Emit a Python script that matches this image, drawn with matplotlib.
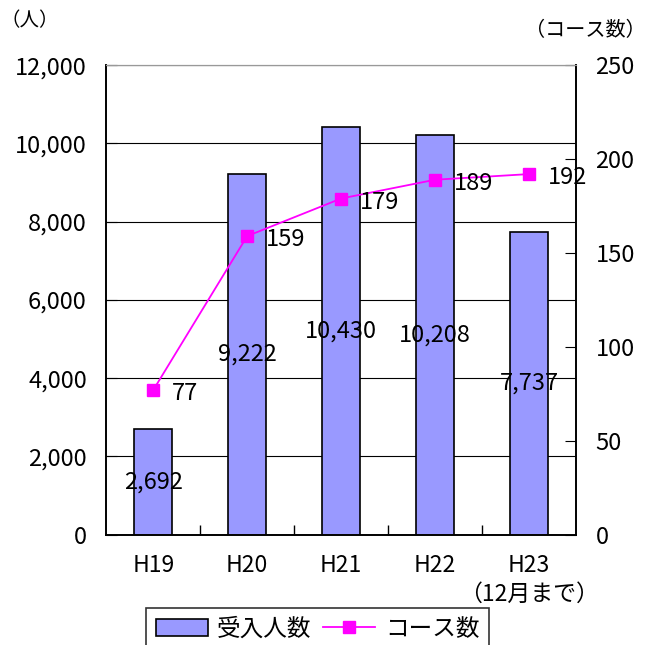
import matplotlib
matplotlib.use("Agg")
import matplotlib.pyplot as plt
from matplotlib.ticker import FuncFormatter

plt.rcParams['font.family'] = ['Noto Sans CJK JP', 'DejaVu Sans']

# データ
years = ['H19', 'H20', 'H21', 'H22', 'H23\n（12月まで）']
people = [2692, 9222, 10430, 10208, 7737]
courses = [77, 159, 179, 189, 192]
left_ticks = [0, 2000, 4000, 6000, 8000, 10000, 12000]
right_ticks = [0, 50, 100, 150, 200, 250]

fig = plt.figure(figsize=(6.48, 6.45), dpi=100)
ax = fig.add_axes([0.164, 0.171, 0.725, 0.728])
ax2 = ax.twinx()

x = list(range(len(years)))
bars = ax.bar(x, people, width=0.4, color='#9999FF', edgecolor='black', linewidth=1.2,
              label='受入人数', zorder=3)
ax.set_xlim(-0.5, len(years) - 0.5)
ax.set_ylim(0, 12000)
ax.set_yticks(left_ticks)
ax.yaxis.set_major_formatter(FuncFormatter(lambda v, p: f'{int(v):,}'))
ax.grid(axis='y', color='black', linewidth=0.8, zorder=0)
ax.set_axisbelow(True)

for xi, v in zip(x, people):
    ax.text(xi, v / 2, f'{v:,}', ha='center', va='center', fontsize=17, zorder=5)

ln, = ax2.plot(x, courses, color='#FF00FF', marker='s', markersize=9, linewidth=1.3,
               label='コース数', zorder=4)
ax2.set_ylim(0, 250)
ax2.set_yticks(right_ticks)
for xi, v in zip(x, courses):
    ax2.text(xi + 0.2, v - 2, str(v), ha='left', va='center', fontsize=17, zorder=5)

# x軸の目盛り（区切り線）
ax.set_xticks(x)
ax.set_xticklabels(years, fontsize=16.5, linespacing=1.3)
ax.tick_params(axis='x', length=0, pad=14)
ax.set_xticks([i + 0.5 for i in range(len(years) - 1)], minor=True)
ax.tick_params(axis='x', which='minor', direction='in', length=7, width=1)

ax.tick_params(axis='y', direction='in', length=8, labelsize=17, pad=14)
ax2.tick_params(axis='y', direction='in', length=8, labelsize=17, pad=14)

for a in (ax, ax2):
    for s in ('left', 'right', 'bottom'):
        a.spines[s].set_color('black')
        a.spines[s].set_linewidth(1.2)
    a.spines['top'].set_color('#999999')

fig.text(0.0, 0.968, '（人）', fontsize=14, ha='left', va='center')
fig.text(0.997, 0.952, '（コース数）', fontsize=14.5, ha='right', va='center')

leg = fig.legend([bars, ln], ['受入人数', 'コース数'], loc='upper center',
                 bbox_to_anchor=(0.49, 0.057), ncol=2, fontsize=17, frameon=True,
                 fancybox=False, edgecolor='black', handlelength=2.2, columnspacing=0.5,
                 handletextpad=0.4, borderpad=0.4, borderaxespad=0)
leg.get_frame().set_linewidth(1.2)

fig.savefig('out.png', dpi=100)
